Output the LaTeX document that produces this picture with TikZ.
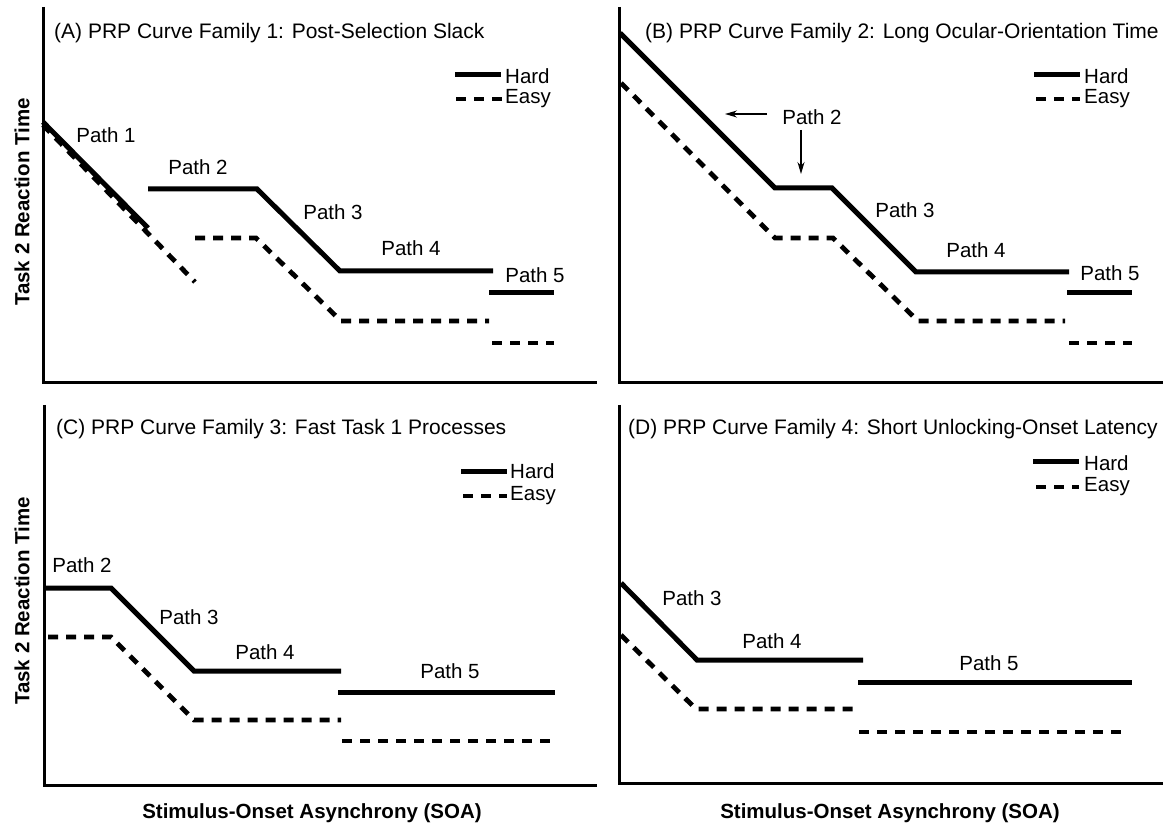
\documentclass[tikz,border=0pt]{standalone}
\usepackage{fontspec}
\setmainfont{Liberation Sans}
\usetikzlibrary{arrows.meta}
\tikzset{
  axisline/.style={line width=3pt, line cap=butt},
  hard/.style={line width=5pt, line cap=butt, line join=miter},
  easy/.style={line width=4.8pt, line cap=butt, dash pattern=on 10pt off 8pt},
  pointer/.style={line width=1.3pt, -{Stealth[length=12pt,width=7pt]}},
  lbl/.style={inner sep=0pt, font=\fontsize{20.5}{24}\selectfont},
  leg/.style={lbl, anchor=west},
  ttl/.style={inner sep=0pt, anchor=west, font=\fontsize{21}{24}\selectfont},
  axlbl/.style={inner sep=0pt, font=\fontsize{20.5}{24}\selectfont\bfseries},
}
\begin{document}
\begin{tikzpicture}[x=1pt, y=-1pt]
\useasboundingbox (0,0) rectangle (1163,826);

% ---------- Panel A ----------
\draw[axisline] (43,7) -- (43,383) -- (597,383);
\node[ttl] (tA) at (54,33) {(A) PRP Curve Family 1: Post-Selection Slack};
\draw[hard] (455,75) -- (501,75);
\node[leg] (hA) at (505,76) {Hard};
\draw[easy] (456,99) -- (502,99);
\node[leg] (eA) at (505,99) {Easy};
\draw[easy] (43,125) -- (195,282);
\draw[hard] (43,122) -- (148,228);
\draw[hard] (148,189) -- (257,189) -- (340,271) -- (493,271);
\draw[hard] (489,293) -- (554,293);
\draw[easy] (195,238) -- (256,238) -- (341,321) -- (489,321);
\draw[easy] (492,343) -- (554,343);
\node[lbl] (a1) at (106,135) {Path 1};
\node[lbl] (a2) at (198,167) {Path 2};
\node[lbl] (a3) at (333,212) {Path 3};
\node[lbl] (a4) at (411,248) {Path 4};
\node[lbl] (a5) at (535,275) {Path 5};
\node[axlbl, rotate=90] (yA) at (22,202) {Task 2 Reaction Time};

% ---------- Panel B ----------
\draw[axisline] (619,7) -- (619,383) -- (1163,383);
\node[ttl] (tB) at (645,33) {(B) PRP Curve Family 2: Long Ocular-Orientation Time};
\draw[hard] (1034,75) -- (1080,75);
\node[leg] (hB) at (1084,76) {Hard};
\draw[easy] (1036,99) -- (1080,99);
\node[leg] (eB) at (1084,99) {Easy};
\draw[hard] (620,33) -- (775,188) -- (832,188) -- (916,272) -- (1069,272);
\draw[hard] (1067,293) -- (1132,293);
\draw[easy] (621,83) -- (775,238) -- (833,238) -- (918,321) -- (1065,321);
\draw[easy] (1069,343) -- (1132,343);
\node[lbl] (b2) at (812,117) {Path 2};
\coordinate (b2l) at (725,114);
\coordinate (b2d) at (801,174);
\coordinate (b2s) at (767,114);
\coordinate (b2t) at (801,130);
\draw[pointer] (b2s) -- (b2l);
\draw[pointer] (b2t) -- (b2d);
\node[lbl] (b3) at (905,210) {Path 3};
\node[lbl] (b4) at (976,250) {Path 4};
\node[lbl] (b5) at (1110,273) {Path 5};

% ---------- Panel C ----------
\draw[axisline] (44,405) -- (44,785) -- (597,785);
\node[ttl] (tC) at (56,429) {(C) PRP Curve Family 3: Fast Task 1 Processes};
\draw[hard] (461,471) -- (507,471);
\node[leg] (hC) at (510,471) {Hard};
\draw[easy] (463,496) -- (507,496);
\node[leg] (eC) at (510,496) {Easy};
\draw[hard] (44,588) -- (111,588) -- (194,671) -- (341,671);
\draw[hard] (338,692) -- (555,692);
\draw[easy] (48,637) -- (111,637) -- (194,720) -- (341,720);
\draw[easy] (342,741) -- (554,741);
\node[lbl] (c2) at (82,565) {Path 2};
\node[lbl] (c3) at (189,617) {Path 3};
\node[lbl] (c4) at (265,652) {Path 4};
\node[lbl] (c5) at (450,671) {Path 5};
\node[axlbl, rotate=90] (yC) at (22,601) {Task 2 Reaction Time};
\node[axlbl] (xC) at (312,813) {Stimulus-Onset Asynchrony (SOA)};

% ---------- Panel D ----------
\draw[axisline] (619,405) -- (619,783) -- (1163,783);
\node[ttl] (tD) at (628,429) {(D) PRP Curve Family 4: Short Unlocking-Onset Latency};
\draw[hard] (1033,462) -- (1079,462);
\node[leg] (hD) at (1084,463) {Hard};
\draw[easy] (1036,487) -- (1079,487);
\node[leg] (eD) at (1084,487) {Easy};
\draw[hard] (621,583) -- (697,660) -- (863,660);
\draw[hard] (858,682) -- (1132,682);
\draw[easy] (621,635) -- (696,709) -- (859,709);
\draw[easy] (859,732) -- (1128,732);
\node[lbl] (d3) at (692,598) {Path 3};
\node[lbl] (d4) at (772,641) {Path 4};
\node[lbl] (d5) at (989,663) {Path 5};
\node[axlbl] (xD) at (890,813) {Stimulus-Onset Asynchrony (SOA)};
\end{tikzpicture}
\end{document}
